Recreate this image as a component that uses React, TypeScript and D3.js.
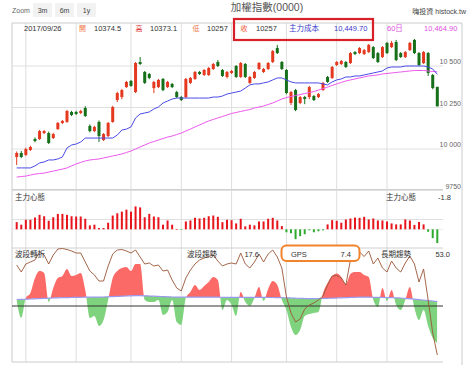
import React from 'react';
import * as d3 from 'd3';

// 加權指數 日K (最後一根 = 2017/09/26)
const open = [
  9952, 9976, 9964, 9994, 10060, 10060, 10096, 10096, 10066, 10120,
  10157, 10163, 10223, 10223, 10217, 10247, 10139, 10108, 10163, 10054,
  10078, 10163, 10295, 10313, 10373, 10410, 10343, 10524, 10464, 10452,
  10367, 10373, 10422, 10373, 10392, 10343, 10313, 10313, 10398, 10422,
  10464, 10446, 10446, 10482, 10524, 10476, 10434, 10458, 10500, 10434,
  10512, 10398, 10428, 10482, 10464, 10482, 10524, 10608, 10524, 10476,
  10277, 10355, 10277, 10313, 10313, 10319, 10313, 10355, 10434, 10428,
  10506, 10512, 10524, 10518, 10584, 10578, 10572, 10584, 10614, 10578,
  10554, 10639, 10614, 10645, 10578, 10554, 10596, 10657, 10578, 10518,
  10578, 10446, 10374.5,
];
const high = [
  9985, 9988, 10008, 10020, 10070, 10115, 10115, 10105, 10097, 10163,
  10175, 10235, 10230, 10230, 10236, 10258, 10148, 10140, 10172, 10096,
  10163, 10260, 10345, 10362, 10410, 10416, 10524, 10554, 10470, 10458,
  10410, 10422, 10428, 10410, 10398, 10350, 10320, 10428, 10434, 10470,
  10470, 10482, 10494, 10518, 10536, 10482, 10470, 10476, 10506, 10524,
  10518, 10440, 10470, 10524, 10488, 10524, 10596, 10627, 10530, 10482,
  10350, 10362, 10320, 10320, 10380, 10325, 10337, 10404, 10440, 10500,
  10530, 10536, 10530, 10584, 10590, 10614, 10602, 10633, 10620, 10584,
  10620, 10645, 10651, 10657, 10584, 10590, 10645, 10663, 10584, 10590,
  10584, 10452, 10374.5,
];
const low = [
  9904, 9945, 9958, 9988, 10040, 10055, 10090, 10030, 10060, 10115,
  10150, 10158, 10198, 10205, 10210, 10193, 10100, 10102, 10042, 10048,
  10072, 10158, 10283, 10300, 10368, 10375, 10337, 10506, 10392, 10420,
  10337, 10367, 10348, 10367, 10367, 10307, 10289, 10307, 10392, 10416,
  10446, 10440, 10440, 10476, 10494, 10434, 10425, 10452, 10428, 10428,
  10428, 10392, 10422, 10476, 10458, 10476, 10518, 10572, 10476, 10330,
  10265, 10228, 10270, 10270, 10300, 10289, 10307, 10350, 10398, 10422,
  10500, 10506, 10488, 10512, 10566, 10572, 10566, 10578, 10542, 10518,
  10548, 10572, 10608, 10530, 10548, 10548, 10590, 10572, 10500, 10512,
  10440, 10360, 10257,
];
const close = [
  9976, 9952, 10000, 10012, 10048, 10108, 10108, 10036, 10090, 10157,
  10169, 10229, 10205, 10211, 10229, 10199, 10108, 10133, 10078, 10090,
  10157, 10253, 10337, 10355, 10404, 10380, 10518, 10512, 10398, 10428,
  10404, 10416, 10355, 10404, 10373, 10313, 10295, 10422, 10428, 10464,
  10452, 10476, 10488, 10512, 10500, 10440, 10464, 10470, 10434, 10518,
  10434, 10434, 10464, 10518, 10482, 10518, 10590, 10578, 10482, 10337,
  10343, 10235, 10313, 10301, 10373, 10295, 10331, 10398, 10404, 10494,
  10524, 10530, 10494, 10578, 10572, 10608, 10596, 10627, 10548, 10524,
  10614, 10578, 10639, 10536, 10554, 10584, 10639, 10578, 10506, 10584,
  10458, 10367, 10257,
];

// 主力成本
const cost = [
  9886, 9886, 9886, 9886, 9898, 9916, 9922, 9934, 9934, 9940,
  9952, 10006, 10024, 10030, 10042, 10066, 10066, 10066, 10066, 10066,
  10066, 10066, 10084, 10114, 10120, 10133, 10187, 10211, 10217, 10223,
  10241, 10253, 10277, 10289, 10301, 10307, 10307, 10307, 10307, 10307,
  10307, 10307, 10307, 10313, 10313, 10319, 10331, 10337, 10343, 10349,
  10367, 10386, 10392, 10392, 10398, 10404, 10416, 10428, 10428, 10416,
  10404, 10398, 10398, 10398, 10398, 10398, 10398, 10392, 10386, 10404,
  10416, 10422, 10434, 10434, 10440, 10440, 10446, 10452, 10458, 10464,
  10470, 10488, 10494, 10494, 10494, 10500, 10500, 10500, 10500, 10500,
  10494, 10482, 10449.7,
];

// 60日均線
const ma60 = [
  9831, 9834, 9837, 9843, 9849, 9852, 9855, 9861, 9867, 9873,
  9879, 9886, 9898, 9910, 9919, 9928, 9934, 9937, 9940, 9946,
  9952, 9958, 9964, 9970, 9979, 9988, 10000, 10012, 10024, 10036,
  10045, 10054, 10063, 10072, 10078, 10087, 10096, 10108, 10120, 10133,
  10145, 10157, 10169, 10178, 10187, 10196, 10205, 10214, 10220, 10226,
  10232, 10238, 10247, 10253, 10259, 10268, 10277, 10289, 10301, 10310,
  10316, 10322, 10328, 10334, 10340, 10346, 10355, 10364, 10373, 10383,
  10392, 10401, 10410, 10416, 10422, 10428, 10434, 10440, 10443, 10446,
  10452, 10455, 10458, 10461, 10464, 10467, 10470, 10473, 10473, 10473,
  10470, 10467, 10464.9,
];

// 主力心態
const mind = [
  7.3, 4.7, 9.7, 9.7, 12, 14.7, 13.3, 8.7, 12.3, 15.7,
  15.7, 14.7, 13.3, 13, 13, 10.7, 4, 4.7, 1.3, 1.3,
  6.7, 14, 16.3, 18, 20, 18, 23.3, 22.3, 12.3, 15.7,
  13, 12.3, 4.7, 9, 4.7, 0, -0.3, 8, 9, 11.7,
  11, 11.7, 13.3, 14, 12.7, 7.3, 9.7, 9.3, 6, 10.7,
  3, 4.7, 4, 8, 8, 10.7, 11.7, 9, 3.3, -3,
  -4, -10, -7, -5, -1, -3, -2, -1, 5, 9.3,
  8.7, 6.7, 10, 11, 12, 11.7, 12.7, 10, 11, 9,
  9, 8, 6, 5, 5, 10, 9, 4.5, 7.5, 5,
  -2.5, -9, -14,
];

// GPS: 波段轉折 / 波段趨勢 / 長期趨勢
const gpsTurn = [
  41, 34, 42, 44, 46, 54, 51, 42, 51, 57,
  57.5, 56.5, 55, 53, 53, 44, 35, 31, 25, 25,
  40, 52, 56, 56.5, 55, 53, 56, 49, 42, 43,
  40, 41, 35, 36, 26, 18, 15, 28, 36, 42,
  46, 48, 49.5, 51, 45, 40, 42, 43, 42, 53,
  42, 38, 44, 52, 44, 52, 56, 49, 38, 9,
  -7, -16, -13, -3, 1, 3, 6, 10, 21, 30,
  30.5, 28, 21, 46, 53.5, 54, 49.5, 55, 42, 48,
  38, 34, 45, 38, 34, 43, 50, 42, 24, 37,
  6, -27, -49,
];
const gpsTrend = [
  5, -12, 8, 13, 28, 35, 33, 4, 18, 28,
  30, 37, 30, 31, 33, 16, -12, -10, -20, -14,
  6, 28, 35, 38, 39, 35, 42, 42, 6, 4,
  4, 6, -9, -6, 6, -16, -19, 8, 14, 21,
  16, 20, 24, 29, 26, -4, 6, 1, -10, 14,
  4, 0, 8, 19, 5, 17, 25, 21, 6, -4,
  -21, -29, -24, -10, -8, -7, -6, 13, 23, 30,
  32.5, 29, 22, 32, 34, 34, 31, 29, 6, -1,
  18, 5, 16, 1, -4, 6, 19, -2, -14, -4,
  -20, -32, -37,
];
const gpsLong = [
  6.5, 6.6, 6.8, 7, 7.2, 7.4, 7.6, 7.8, 8, 8.2,
  8.3, 8.4, 8.5, 8.6, 8.7, 8.8, 8.8, 8.9, 8.9, 9,
  9.2, 9.4, 9.6, 9.8, 10, 10.2, 10.3, 10.3, 10.2, 10,
  9.8, 9.6, 9.4, 9.2, 9, 8.9, 8.8, 8.8, 8.8, 8.8,
  8.8, 8.8, 8.8, 8.8, 8.8, 8.7, 8.7, 8.7, 8.7, 8.7,
  8.7, 8.6, 8.6, 8.6, 8.6, 8.5, 8.5, 8.4, 8.3, 8.2,
  8, 7.8, 7.6, 7.5, 7.4, 7.4, 7.5, 7.6, 7.7, 7.8,
  8, 8.2, 8.4, 8.6, 8.7, 8.8, 8.8, 8.8, 8.7, 8.6,
  8.5, 8.4, 8.3, 8.2, 8, 7.6, 7.2, 6.8, 6.4, 6,
  5.5, 5, 4.5,
];

const priceTicks = [9750, 10000, 10250, 10500];
const gridDays = [2, 13, 25, 36, 47, 59, 70, 81];

const FONT = "'Liberation Sans', 'Noto Sans CJK TC', sans-serif";
const RED = '#e5391f';
const GREEN = '#16701a';

const spaceFmt = d3.formatLocale({ decimal: '.', thousands: ' ', grouping: [3], currency: ['', ''] }).format(',');
const fmtTick = (v: number) => (v >= 10000 ? spaceFmt(v) : String(v));

export default function App() {
  const left = 12, right = 443, outerRight = 462;
  const top = 23, p1Bottom = 189.5, p2Bottom = 248, bottom = 362;

  const idx = d3.range(close.length);
  const x = d3.scaleLinear().domain([0, close.length - 1]).range([16.7, 437.3]);
  const y = d3.scaleLinear().domain([9750, 10750]).range([190.5, 24.5]);
  const yM = d3.scaleLinear().domain([-19, 41]).range([248, 189]);
  const yG = d3.scaleLinear().domain([-56, 58]).range([362, 248]);

  const bodyW = 3;
  const barW = 2;

  const costPath = d3.line<number>().x(i => x(i)).y(i => y(cost[i]))(idx) || '';
  const maPath = d3.line<number>().x(i => x(i)).y(i => y(ma60[i]))(idx) || '';

  const curve = d3.curveMonotoneX;
  const turnPath = d3.line<number>().x(i => x(i)).y(i => yG(gpsTurn[i]))(idx) || '';
  const longPath = d3.line<number>().x(i => x(i)).y(i => yG(gpsLong[i])).curve(curve)(idx) || '';
  const fillPath = d3.area<number>().x(i => x(i)).y0(i => yG(gpsLong[i])).y1(i => yG(gpsTrend[i])).curve(curve)(idx) || '';
  const aboveClip = d3.area<number>().x(i => x(i)).y0(p2Bottom).y1(i => yG(gpsLong[i])).curve(curve)(idx) || '';
  const belowClip = d3.area<number>().x(i => x(i)).y0(bottom).y1(i => yG(gpsLong[i])).curve(curve)(idx) || '';

  const txt = { fontFamily: FONT, fontSize: 7.5, fill: '#333' } as const;

  return (
    <svg width={474} height={365} style={{ position: 'absolute', left: 0, top: 0, background: '#fff' }}>
      <defs>
        <clipPath id="above"><path d={aboveClip} /></clipPath>
        <clipPath id="below"><path d={belowClip} /></clipPath>
      </defs>

      {/* toolbar */}
      <text x={12} y={12.5} {...txt} fontSize={7} fill="#666">Zoom</text>
      {['3m', '6m', '1y'].map((t, k) => (
        <g key={t}>
          <rect x={33 + k * 22} y={3} width={19} height={14} fill="#f2f2f2" />
          <text x={42.5 + k * 22} y={12.5} {...txt} fontSize={7} fill="#444" textAnchor="middle">{t}</text>
        </g>
      ))}
      <text x={267} y={11} {...txt} fontSize={10.5} fill="#555" textAnchor="middle">加權指數(0000)</text>
      <text x={466} y={14} {...txt} fontSize={7} fill="#444" textAnchor="end">嗨投資 histock.tw</text>

      {/* grid */}
      {gridDays.map(d => (
        <line key={d} x1={x(d)} x2={x(d)} y1={top} y2={bottom} stroke="#dedede" />
      ))}
      {priceTicks.map(t => (
        <g key={t}>
          <line x1={left} x2={right} y1={y(t)} y2={y(t)} stroke="#e0e0e0" />
          <text x={461} y={y(t) - 2} {...txt} fontSize={7} fill="#666" textAnchor="end">{fmtTick(t)}</text>
        </g>
      ))}
      <line x1={left} x2={right} y1={yM(10)} y2={yM(10)} stroke="#e0e0e0" />
      <line x1={left} x2={right} y1={yM(0)} y2={yM(0)} stroke="#eeeeee" />
      <line x1={left} x2={right} y1={p2Bottom} y2={p2Bottom} stroke="#d0d0d0" />
      <line x1={left} x2={right} y1={p1Bottom} y2={p1Bottom} stroke="#d0d0d0" />
      <line x1={left} x2={outerRight} y1={top} y2={top} stroke="#ccc" />
      <line x1={left} x2={left} y1={top} y2={bottom} stroke="#ccc" />
      <line x1={left} x2={right} y1={bottom} y2={bottom} stroke="#ccc" />
      <line x1={outerRight} x2={outerRight} y1={top} y2={365} stroke="#ccc" />

      {/* candles */}
      {idx.map(i => {
        const up = close[i] >= open[i];
        const c = up ? RED : GREEN;
        const yt = y(Math.max(open[i], close[i]));
        const yb = y(Math.min(open[i], close[i]));
        return (
          <g key={i}>
            <line x1={x(i)} x2={x(i)} y1={y(high[i])} y2={y(low[i])} stroke={c} strokeWidth={1} />
            <rect x={x(i) - bodyW / 2} y={yt} width={bodyW} height={Math.max(1, yb - yt)} fill={c} />
          </g>
        );
      })}
      <path d={maPath} fill="none" stroke="#ec5aec" strokeWidth={1} />
      <path d={costPath} fill="none" stroke="#4a4ae6" strokeWidth={1} />

      {/* header row */}
      <text x={24} y={30.5} {...txt}>2017/09/26</text>
      <text x={79} y={30.5} {...txt} fontSize={7} fill="#ef7a4a">開</text>
      <text x={94} y={30.5} {...txt}>10374.5</text>
      <text x={135.5} y={30.5} {...txt} fontSize={7} fill="#e03a3a">高</text>
      <text x={150} y={30.5} {...txt}>10373.1</text>
      <text x={192.5} y={30.5} {...txt} fontSize={7} fill="#ef7a4a">低</text>
      <text x={207} y={30.5} {...txt}>10257</text>
      <rect x={234} y={19} width={139} height={21} fill="none" stroke="#d9202a" strokeWidth={2.2} />
      <text x={240.5} y={30.5} {...txt} fontSize={7} fill="#ee5533">收</text>
      <text x={256} y={30.5} {...txt}>10257</text>
      <text x={289} y={30.5} {...txt} fill="#3a3acc">主力成本</text>
      <text x={334} y={30.5} {...txt} fill="#3a3acc">10,449.70</text>
      <text x={387} y={30.5} {...txt} fill="#e050e0">60日</text>
      <text x={424} y={30.5} {...txt} fill="#e050e0">10,464.90</text>

      {/* 主力心態 */}
      {idx.map(i => {
        const v = mind[i];
        const y0 = yM(0);
        const y1 = yM(v);
        return (
          <rect key={i} x={x(i) - barW / 2} y={Math.min(y0, y1)} width={barW}
            height={Math.max(0.6, Math.abs(y1 - y0))} fill={v >= 0 ? '#e8141c' : '#2eaa2e'} />
        );
      })}
      <text x={15} y={200} {...txt}>主力心態</text>
      <text x={386} y={200} {...txt}>主力心態</text>
      <text x={451} y={200} {...txt} textAnchor="end">-1.8</text>

      {/* GPS */}
      <path d={fillPath} fill="#fb6a66" clipPath="url(#above)" />
      <path d={fillPath} fill="#7fd37f" clipPath="url(#below)" />
      <line x1={left} x2={right} y1={yG(0)} y2={yG(0)} stroke="#333" strokeWidth={1.2} />
      <path d={longPath} fill="none" stroke="#9a9af0" strokeWidth={1.2} />
      <path d={turnPath} fill="none" stroke="#9a5638" strokeWidth={0.9} />

      <text x={15} y={257} {...txt}>波段轉折</text>
      <text x={187} y={257} {...txt}>波段趨勢</text>
      <text x={259} y={257} {...txt} textAnchor="end">17.6</text>
      <rect x={281.5} y={245.5} width={78} height={15.5} rx={5} fill="#fff" stroke="#f0842c" strokeWidth={2} />
      <text x={291} y={256.5} {...txt}>GPS</text>
      <text x={351} y={256.5} {...txt} textAnchor="end">7.4</text>
      <text x={381} y={257} {...txt}>長期趨勢</text>
      <text x={450} y={257} {...txt} textAnchor="end">53.0</text>
    </svg>
  );
}
